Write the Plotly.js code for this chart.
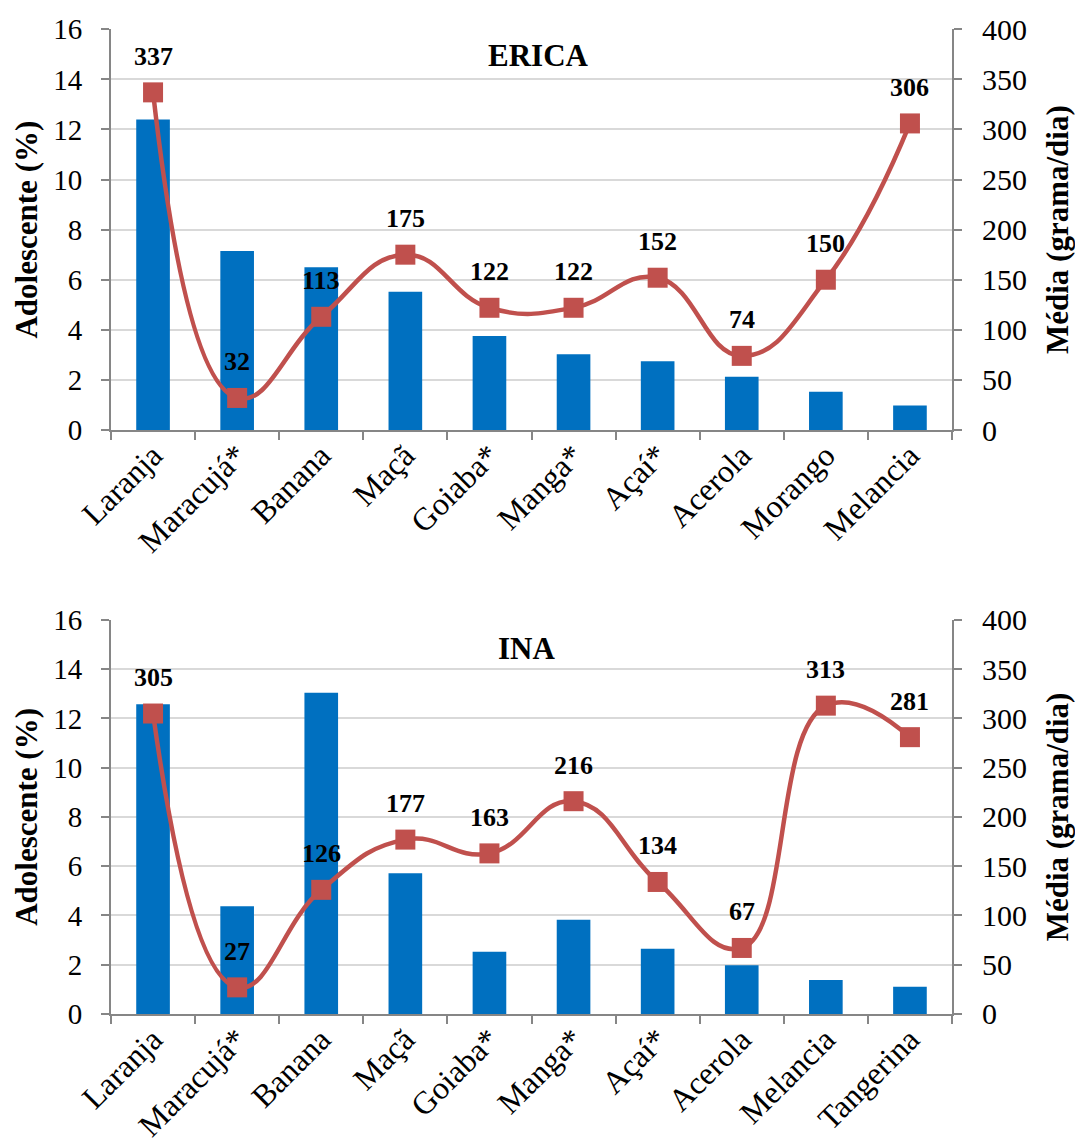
<!DOCTYPE html>
<html>
<head>
<meta charset="utf-8">
<script src="https://cdn.plot.ly/plotly-3.0.1.min.js"></script>
<style>
  html, body { margin: 0; padding: 0; background: #ffffff; }
  #chart { width: 1075px; height: 1147px; }
</style>
</head>
<body>
<div id="chart"></div>
<script>
// Fruit consumption: share of adolescents (bars, left axis) and mean intake (line, right axis)
const ericaFruits = ["Laranja", "Maracujá*", "Banana", "Maçã", "Goiaba*", "Manga*", "Açaí*", "Acerola", "Morango", "Melancia"];
const ericaPercent = [12.4, 7.15, 6.5, 5.52, 3.75, 3.02, 2.75, 2.13, 1.53, 0.98];
const ericaGrams = [337, 32, 113, 175, 122, 122, 152, 74, 150, 306];

const inaFruits = ["Laranja", "Maracujá*", "Banana", "Maçã", "Goiaba*", "Manga*", "Açaí*", "Acerola", "Melancia", "Tangerina"];
const inaPercent = [12.58, 4.37, 13.04, 5.71, 2.53, 3.83, 2.65, 1.98, 1.38, 1.10];
const inaGrams = [305, 27, 126, 177, 163, 216, 134, 67, 313, 281];

const panelTitles = ["ERICA", "INA"];
const leftTitle = "Adolescente (%)";
const rightTitle = "Média (grama/dia)";

const FONT = "Liberation Serif, serif";
const BAR_COLOR = "#0070C0";
const LINE_COLOR = "#C0504D";
const AXIS_COLOR = "#868686";
const GRID_COLOR = "#D9D9D9";

function barTrace(x, y, xa, ya) {
  return {
    type: "bar", x: x, y: y, xaxis: xa, yaxis: ya,
    width: 0.4,
    marker: { color: BAR_COLOR, line: { width: 0 } },
    hoverinfo: "x+y", showlegend: false
  };
}

function lineTrace(x, y, xa, ya) {
  return {
    type: "scatter", mode: "lines+markers", x: x, y: y, xaxis: xa, yaxis: ya,
    line: { color: LINE_COLOR, width: 4.5, shape: "spline", smoothing: 1.3 },
    marker: { symbol: "square", size: 20, color: LINE_COLOR },
    cliponaxis: false, showlegend: false
  };
}

function leftAxis(domain, anchor) {
  return {
    domain: domain, anchor: anchor,
    range: [0, 16], dtick: 2, tick0: 0,
    showgrid: true, gridcolor: GRID_COLOR, gridwidth: 2,
    zeroline: false,
    showline: true, linecolor: AXIS_COLOR, linewidth: 2,
    ticks: "outside", ticklen: 8, tickwidth: 2, tickcolor: AXIS_COLOR,
    tickfont: { family: FONT, size: 29, color: "#000" },
    ticklabelstandoff: 13,
    title: { text: "<b>" + leftTitle + "</b>", font: { family: FONT, size: 31, color: "#000" }, standoff: 6 },
    automargin: false, fixedrange: true
  };
}

function rightAxis(overlay, anchor) {
  return {
    overlaying: overlay, anchor: anchor, side: "right",
    range: [0, 400], dtick: 50, tick0: 0,
    showgrid: false, zeroline: false,
    showline: true, linecolor: AXIS_COLOR, linewidth: 2,
    ticks: "outside", ticklen: 8, tickwidth: 2, tickcolor: AXIS_COLOR,
    tickfont: { family: FONT, size: 30, color: "#000" },
    ticklabelstandoff: 14,
    title: { text: "<b>" + rightTitle + "</b>", font: { family: FONT, size: 31, color: "#000" }, standoff: 22 },
    automargin: false, fixedrange: true
  };
}

function catAxis(anchor, cats) {
  return {
    anchor: anchor, type: "category",
    categoryorder: "array", categoryarray: cats,
    range: [-0.5, cats.length - 0.5],
    tickson: "boundaries",
    showgrid: false, zeroline: false,
    showline: true, linecolor: AXIS_COLOR, linewidth: 2,
    ticks: "outside", ticklen: 8, tickwidth: 2, tickcolor: AXIS_COLOR,
    tickangle: -45,
    tickfont: { family: FONT, size: 32, color: "#000" },
    ticklabelstandoff: -8,
    automargin: false, fixedrange: true
  };
}

function valueLabels(x, y, xref, yref) {
  return x.map((c, i) => ({
    x: c, y: y[i], xref: xref, yref: yref,
    text: "<b>" + y[i] + "</b>",
    showarrow: false, yshift: 36,
    font: { family: FONT, size: 26, color: "#000" }
  }));
}

const traces = [
  barTrace(ericaFruits, ericaPercent, "x", "y"),
  lineTrace(ericaFruits, ericaGrams, "x", "y2"),
  barTrace(inaFruits, inaPercent, "x2", "y3"),
  lineTrace(inaFruits, inaGrams, "x2", "y4")
];

const topDomain = [0.6251, 0.9745];
const bottomDomain = [0.1160, 0.4595];

const annotations = []
  .concat(valueLabels(ericaFruits, ericaGrams, "x", "y2"))
  .concat(valueLabels(inaFruits, inaGrams, "x2", "y4"))
  .concat([
    { text: "<b>" + panelTitles[0] + "</b>", xref: "paper", yref: "paper",
      x: 0.5085, y: 1 - 56 / 1147, xanchor: "center", yanchor: "middle", showarrow: false,
      font: { family: FONT, size: 31, color: "#000" } },
    { text: "<b>" + panelTitles[1] + "</b>", xref: "paper", yref: "paper",
      x: 0.494, y: 1 - 648 / 1147, xanchor: "center", yanchor: "middle", showarrow: false,
      font: { family: FONT, size: 31, color: "#000" } }
  ]);

const layout = {
  width: 1075, height: 1147,
  margin: { l: 111, r: 123, t: 0, b: 0, pad: 0 },
  paper_bgcolor: "#ffffff", plot_bgcolor: "#ffffff",
  showlegend: false,
  bargap: 0.6,
  font: { family: FONT, color: "#000" },
  xaxis: Object.assign(catAxis("y", ericaFruits), { domain: [0, 1] }),
  yaxis: leftAxis(topDomain, "x"),
  yaxis2: rightAxis("y", "x"),
  xaxis2: Object.assign(catAxis("y3", inaFruits), { domain: [0, 1] }),
  yaxis3: leftAxis(bottomDomain, "x2"),
  yaxis4: rightAxis("y3", "x2"),
  annotations: annotations
};

Plotly.newPlot("chart", traces, layout, { staticPlot: true, displayModeBar: false });
</script>
</body>
</html>
